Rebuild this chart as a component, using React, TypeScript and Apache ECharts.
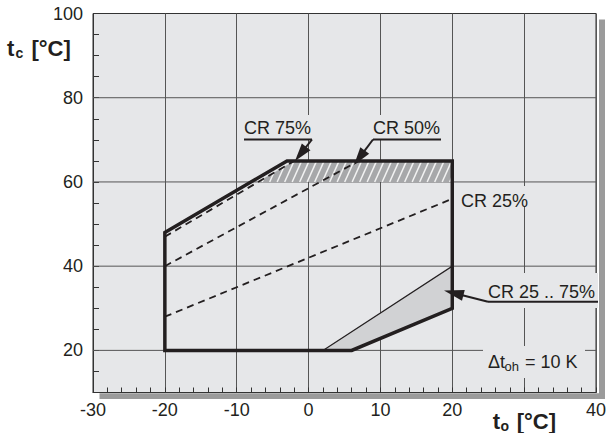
import React, { useEffect, useRef } from "react";
import * as echarts from "echarts";

// ---- data ----
const xRange = [-30, 40];
const yRange = [10, 100];
const xLabelValues = [-30, -20, -10, 0, 10, 20, 40];
const yGridValues = [20, 40, 60, 80];
const yLabelValues = [20, 40, 60, 80, 100];
const envelope = [[-20, 20], [-20, 48], [-3, 65], [20, 65], [20, 30], [6, 20], [-20, 20]];
const band2575 = [[2, 20], [20, 40], [20, 30], [6, 20]];
const hatchBand = [[-7.1, 60], [-2, 65], [20, 65], [20, 60]];
const cr75Line = [[-20, 47], [-2, 65]];
const cr50Line = [[-20, 40], [7, 65]];
const cr25Line = [[-20, 28], [20, 56]];

const FONT = "'Liberation Sans', Arial, Helvetica, sans-serif";
const INK = "#231f20";
const BG = "#e6e7e9";

function clipToConvex(p0: number[], p1: number[], poly: number[][]) {
  let area = 0;
  for (let i = 0; i < poly.length; i++) {
    const a = poly[i], b = poly[(i + 1) % poly.length];
    area += a[0] * b[1] - b[0] * a[1];
  }
  const orient = area >= 0 ? 1 : -1;
  const d = [p1[0] - p0[0], p1[1] - p0[1]];
  let tmin = 0, tmax = 1;
  for (let i = 0; i < poly.length; i++) {
    const a = poly[i], b = poly[(i + 1) % poly.length];
    const e = [b[0] - a[0], b[1] - a[1]];
    const num = (e[0] * (p0[1] - a[1]) - e[1] * (p0[0] - a[0])) * orient;
    const den = (e[0] * d[1] - e[1] * d[0]) * orient;
    if (Math.abs(den) < 1e-9) {
      if (num < 0) return null;
    } else {
      const t = -num / den;
      if (den > 0) tmin = Math.max(tmin, t);
      else tmax = Math.min(tmax, t);
    }
  }
  if (tmin >= tmax) return null;
  return [
    [p0[0] + d[0] * tmin, p0[1] + d[1] * tmin],
    [p0[0] + d[0] * tmax, p0[1] + d[1] * tmax],
  ];
}

function arrowEls(x1: number, y1: number, x2: number, y2: number, len = 15, hw = 4.5) {
  const dx = x2 - x1, dy = y2 - y1;
  const L = Math.hypot(dx, dy);
  const ux = dx / L, uy = dy / L;
  const bx = x2 - ux * len, by = y2 - uy * len;
  const px = -uy * hw, py = ux * hw;
  return [
    { type: "line", z: 100, shape: { x1, y1, x2: bx + ux * 2, y2: by + uy * 2 }, style: { stroke: INK, lineWidth: 2 } },
    { type: "polygon", z: 100, shape: { points: [[x2, y2], [bx + px, by + py], [bx - px, by - py]] }, style: { fill: INK } },
  ];
}

function txt(text: string, x: number, y: number, fontSize: number, bold = false) {
  return {
    type: "text",
    z: 101,
    style: {
      text,
      x,
      y,
      fill: INK,
      font: `${bold ? "bold " : ""}${fontSize}px ${FONT}`,
      align: "left",
      verticalAlign: "middle",
    },
  };
}

function bgRect(x: number, y: number, width: number, height: number) {
  return { type: "rect", z: 99, shape: { x, y, width, height }, style: { fill: BG } };
}

function uline(x1: number, x2: number, y: number) {
  return { type: "line", z: 100, shape: { x1, y1: y, x2, y2: y }, style: { stroke: INK, lineWidth: 2 } };
}

export default function App() {
  const ref = useRef<HTMLDivElement>(null);
  useEffect(() => {
    if (!ref.current) return;
    const chart = echarts.init(ref.current, undefined, { renderer: "svg" });

    const dashedSeries = (data: number[][]) => ({
      type: "line",
      data,
      showSymbol: false,
      symbol: "none",
      z: 4,
      silent: true,
      lineStyle: { color: INK, width: 1.8, type: [7, 5] },
    });

    const option: any = {
      animation: false,
      grid: {
        left: 93,
        top: 13.5,
        right: 10.5,
        bottom: 40.5,
        show: true,
        backgroundColor: BG,
        borderColor: "#333",
        borderWidth: 1,
      },
      xAxis: {
        type: "value",
        min: xRange[0],
        max: xRange[1],
        interval: 10,
        axisLine: { show: true, onZero: false, lineStyle: { color: "#333", width: 1 } },
        axisTick: { show: true, inside: true, length: 5, lineStyle: { color: "#333" } },
        minorTick: { show: true, splitNumber: 5, length: 5, lineStyle: { color: "#333" } },
        splitLine: { show: true, lineStyle: { color: "#555", width: 1 } },
        axisLabel: {
          fontSize: 18,
          color: INK,
          margin: 8,
          fontFamily: FONT,
          formatter: (v: number) => (xLabelValues.indexOf(v) >= 0 ? String(v) : ""),
        },
      },
      yAxis: {
        type: "value",
        min: yRange[0],
        max: yRange[1],
        interval: 10,
        axisLine: { show: true, onZero: false, lineStyle: { color: "#333", width: 1 } },
        axisTick: { show: true, inside: true, length: 6, lineStyle: { color: "#333" } },
        minorTick: { show: true, splitNumber: 2, length: 6, lineStyle: { color: "#333" } },
        splitLine: { show: false },
        axisLabel: {
          fontSize: 18,
          color: INK,
          margin: 10,
          fontFamily: FONT,
          formatter: (v: number) => (yLabelValues.indexOf(v) >= 0 ? String(v) : ""),
        },
      },
      series: [
        {
          type: "custom",
          z: 1,
          silent: true,
          data: yGridValues.map((v) => [xRange[0], v]),
          renderItem: (params: any, api: any) => {
            const a = api.coord([xRange[0], api.value(1)]);
            const b = api.coord([xRange[1], api.value(1)]);
            return {
              type: "line",
              shape: { x1: a[0], y1: a[1], x2: b[0], y2: b[1] },
              style: { stroke: "#555", lineWidth: 1 },
            };
          },
        },
        {
          type: "custom",
          z: 3,
          silent: true,
          data: [[0, 0]],
          renderItem: (params: any, api: any) => {
            const pts = band2575.map((p) => api.coord(p));
            return {
              type: "polygon",
              shape: { points: pts },
              style: { fill: "#d1d2d4", stroke: INK, lineWidth: 1.2 },
            };
          },
        },
        {
          type: "custom",
          z: 3,
          silent: true,
          data: [[0, 0]],
          renderItem: (params: any, api: any) => {
            const pts = hatchBand.map((p) => api.coord(p));
            const xs = pts.map((p: number[]) => p[0]);
            const ys = pts.map((p: number[]) => p[1]);
            const minX = Math.min(...xs), maxX = Math.max(...xs);
            const minY = Math.min(...ys), maxY = Math.max(...ys);
            const h = maxY - minY + 4;
            const slant = 0.45;
            const spacing = 7.5;
            const children: any[] = [
              { type: "polygon", shape: { points: pts }, style: { fill: "#a7a8aa" } },
            ];
            for (let s = minX - slant * h - spacing; s < maxX + spacing; s += spacing) {
              const seg = clipToConvex([s, maxY + 2], [s + slant * h, minY - 2], pts);
              if (seg) {
                children.push({
                  type: "line",
                  shape: { x1: seg[0][0], y1: seg[0][1], x2: seg[1][0], y2: seg[1][1] },
                  style: { stroke: "#f2f2f2", lineWidth: 1.5 },
                });
              }
            }
            return { type: "group", children };
          },
        },
        dashedSeries(cr75Line),
        dashedSeries(cr50Line),
        dashedSeries(cr25Line),
        {
          type: "line",
          data: envelope,
          showSymbol: false,
          symbol: "none",
          z: 5,
          silent: true,
          lineStyle: { color: INK, width: 3.5, join: "miter", cap: "square" },
        },
      ],
      graphic: [
        // shadow of the plot frame
        { type: "rect", z: 1, shape: { x: 599, y: 19.5, width: 6, height: 379 }, style: { fill: "#9b9b9b" } },
        { type: "rect", z: 1, shape: { x: 99.5, y: 393.2, width: 505.5, height: 5.8 }, style: { fill: "#9b9b9b" } },
        // label backgrounds
        bgRect(240, 115, 76, 24),
        bgRect(369, 115, 76, 24),
        bgRect(458, 186, 74, 20),
        bgRect(485, 273, 113, 35),
        bgRect(483, 346, 102, 32),
        // CR 75 %
        txt("CR 75%", 244, 128, 18),
        uline(244, 312, 139.5),
        ...arrowEls(312, 139.5, 295, 161, 18, 5.5),
        // CR 50 %
        txt("CR 50%", 373, 128, 18),
        uline(373, 441, 139.5),
        ...arrowEls(373, 139.5, 354, 165, 18, 5.5),
        // CR 25 %
        txt("CR 25%", 461, 200.5, 18),
        // CR 25 .. 75 %
        txt("CR 25 .. 75%", 488, 291.5, 18),
        uline(488, 598, 301.7),
        ...arrowEls(488, 301.7, 444, 290.5, 20, 5.5),
        // Δt_oh = 10 K
        txt("Δt", 488, 362, 18),
        txt("oh", 504.5, 366.5, 13),
        txt("= 10 K", 525, 362, 18),
        // axis names
        txt("t", 7, 48.3, 22, true),
        txt("c", 15.5, 53, 14, true),
        txt("[°C]", 31.5, 48.3, 22, true),
        txt("t", 492.7, 421, 22, true),
        txt("o", 500.5, 426, 14, true),
        txt("[°C]", 516.7, 421, 22, true),
      ],
    };
    chart.setOption(option);
    return () => chart.dispose();
  }, []);
  return (
    <div
      ref={ref}
      style={{ position: "fixed", left: 0, top: 0, width: 609, height: 433, background: "#fff" }}
    />
  );
}
